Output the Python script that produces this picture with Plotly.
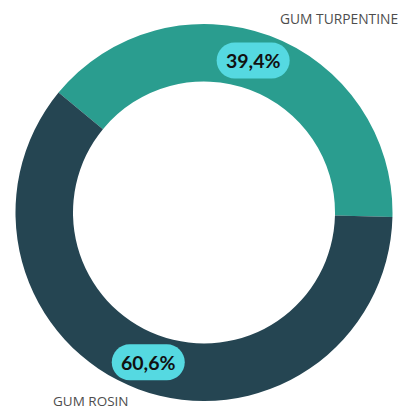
import math
import plotly.graph_objects as go

# ---- data ----
labels = ["GUM TURPENTINE", "GUM ROSIN"]
values = [39.4, 60.6]

# ---- style ----
colors = ["#2a9d8f", "#254552"]
pill_color = "#55d9e1"
W, H = 411, 412
cx, cy = 204.0, 212.5          # pixel centre of donut
R_out = 188.5
hole = 0.695
start_angle = 140.5            # math degrees where first slice starts
rotation = -(start_angle - 90)
label_angle_nudge = [2.5, 0.0]

fig = go.Figure(go.Pie(
    labels=labels, values=values, sort=False, direction="clockwise",
    rotation=rotation, hole=hole, textinfo="none", hoverinfo="label+percent",
    marker=dict(colors=colors, line=dict(width=0)), showlegend=False,
    domain=dict(x=[(cx - R_out) / W, (cx + R_out) / W],
                y=[(H - cy - R_out) / H, (H - cy + R_out) / H]),
))

def px2paper(x, y):
    return x / W, 1 - y / H

def pill_path(x0, y0, x1, y1):
    r = (y1 - y0) / 2
    k = 0.5523 * r
    def P(x, y):
        a, b = px2paper(x, y)
        return f"{a:.5f},{b:.5f}"
    d = f"M {P(x0 + r, y0)} L {P(x1 - r, y0)} "
    d += f"C {P(x1 - r + k, y0)} {P(x1, y0 + r - k)} {P(x1, y0 + r)} "
    d += f"C {P(x1, y0 + r + k)} {P(x1 - r + k, y1)} {P(x1 - r, y1)} "
    d += f"L {P(x0 + r, y1)} "
    d += f"C {P(x0 + r - k, y1)} {P(x0, y1 - r + k)} {P(x0, y1 - r)} "
    d += f"C {P(x0, y0 + r - k)} {P(x0 + r - k, y0)} {P(x0 + r, y0)} Z"
    return d

total = sum(values)
r_mid = R_out * (1 + hole) / 2
ang = start_angle
shapes, annotations = [], []
for i, v in enumerate(values):
    span = v / total * 360
    mid = ang - span / 2 + label_angle_nudge[i]
    ang -= span
    lx = cx + r_mid * math.cos(math.radians(mid))
    ly = cy - r_mid * math.sin(math.radians(mid))
    shapes.append(dict(type="path", xref="paper", yref="paper",
                       path=pill_path(lx - 36.5, ly - 18, lx + 36.5, ly + 18),
                       fillcolor=pill_color, line=dict(width=0), layer="above"))
    ax, ay = px2paper(lx, ly)
    annotations.append(dict(x=ax, y=ay, xref="paper", yref="paper",
                            text=f"<b>{v:.1f}%</b>".replace(".", ","),
                            showarrow=False, xanchor="center", yanchor="middle",
                            font=dict(family="Lato, Roboto, sans-serif", size=19.5, color="#111111")))

# outside category labels
tx, ty = px2paper(400, 19)
annotations.append(dict(x=tx, y=ty, xref="paper", yref="paper", text=labels[0],
                        showarrow=False, xanchor="right", yanchor="middle",
                        font=dict(family="Open Sans, sans-serif", size=13.8, color="#4d4d4d")))
rx, ry = px2paper(51, 401)
annotations.append(dict(x=rx, y=ry, xref="paper", yref="paper", text=labels[1],
                        showarrow=False, xanchor="left", yanchor="middle",
                        font=dict(family="Open Sans, sans-serif", size=13.5, color="#4d4d4d")))

fig.update_layout(width=W, height=H, margin=dict(l=0, r=0, t=0, b=0),
                  paper_bgcolor="white", plot_bgcolor="white",
                  shapes=shapes, annotations=annotations)
fig.write_html("out.html", config={"displayModeBar": False},
               post_script="document.body.style.margin='0';document.body.style.overflow='hidden';")
